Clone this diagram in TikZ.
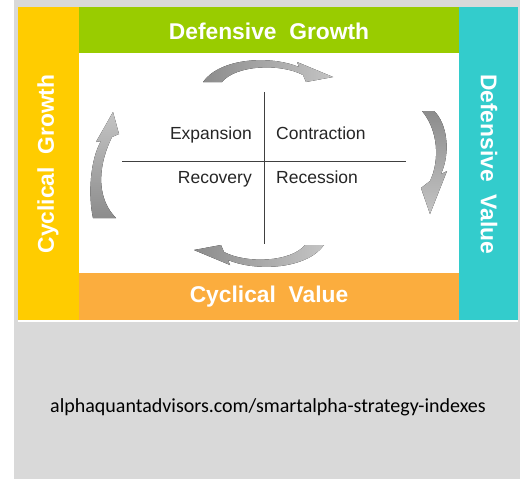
\documentclass[tikz,border=0pt]{standalone}
\usepackage{fontspec}
\setmainfont{Liberation Sans}
\newfontfamily\urlfont{Carlito}
\definecolor{bggray}{HTML}{D9D9D9}
\definecolor{cyellow}{HTML}{FFCC00}
\definecolor{cgreen}{HTML}{99CC00}
\definecolor{cteal}{HTML}{33CCCC}
\definecolor{corange}{HTML}{FBAD3E}
\definecolor{adark}{HTML}{8C8C8C}
\definecolor{alight}{HTML}{C4C4C4}
\begin{document}
\begin{tikzpicture}[x=1pt,y=-1pt,
  band/.style={font=\fontsize{22.8}{24}\selectfont\bfseries, text=white, inner sep=0pt},
  phase/.style={font=\fontsize{17.5}{20}\selectfont, text=black!85, inner sep=0pt},
  axis/.style={draw=black!75, line width=0.9pt}]
\useasboundingbox (0,0) rectangle (523,479);
\fill[white] (0,0) rectangle (523,479);
\fill[bggray] (14,0) rectangle (520,479);
% panel
\fill[white] (18,7) rectangle (518,322);
\fill[cyellow] (18,7) rectangle (79,320);
\fill[cgreen] (79,7) rectangle (459,53);
\fill[cteal] (459,7) rectangle (518,320);
\fill[corange] (79,273) rectangle (459,320);
% band labels
\node[band] (dg) at (269,31) {Defensive\ \ Growth};
\node[band] (cv) at (269,297) {Cyclical\ \ Value};
\node[band, rotate=90] (cg) at (48,164) {Cyclical\ \ Growth};
\node[band, rotate=-90] (dv) at (489,164) {Defensive\ \ Value};
% cross
\coordinate (vt) at (264,92);
\coordinate (vb) at (264,244);
\coordinate (hl) at (122,161);
\coordinate (hr) at (406,161);
\draw[axis] (vt) -- (vb);
\draw[axis] (hl) -- (hr);
% phase labels
\node[phase, anchor=base east] (ex) at (252,139.5) {Expansion};
\node[phase, anchor=base west] (co) at (276,139.5) {Contraction};
\node[phase, anchor=base east] (rc) at (252,183) {Recovery};
\node[phase, anchor=base west] (rs) at (276,183) {Recession};
% top arrow
\fill[left color=adark, right color=alight]
  (203,82) -- (222,82) .. controls (236,65) and (280,63) .. (303,75)
  -- (306,82) -- (333,77) -- (297,62) -- (299,67)
  .. controls (270,55) and (220,58) .. (203,82) -- cycle;
% bottom arrow
\begin{scope}[rotate around={180:(263.5,163.5)}]
\fill[left color=adark, right color=alight]
  (203,82) -- (222,82) .. controls (236,65) and (280,63) .. (303,75)
  -- (306,82) -- (333,77) -- (297,62) -- (299,67)
  .. controls (270,55) and (220,58) .. (203,82) -- cycle;
\end{scope}
% right arrow
\fill[top color=adark, bottom color=alight]
  (422,111) -- (434,111) .. controls (447,123) and (451,152) .. (441,174)
  -- (447,171) -- (430,214) -- (421,188) -- (430,181)
  .. controls (440,160) and (438,130) .. (422,111) -- cycle;
% left arrow
\fill[top color=alight, bottom color=adark]
  (93,218) -- (116,218) .. controls (98,200) and (96,170) .. (112,137)
  -- (119,134) -- (113,112) -- (96,142) -- (101,141)
  .. controls (90,160) and (88,195) .. (93,218) -- cycle;
% url
\node[font=\urlfont\fontsize{20}{24}\selectfont, text=black, inner sep=0pt] (url) at (268,407) {alphaquantadvisors.com/smartalpha-strategy-indexes};
\end{tikzpicture}
\end{document}
